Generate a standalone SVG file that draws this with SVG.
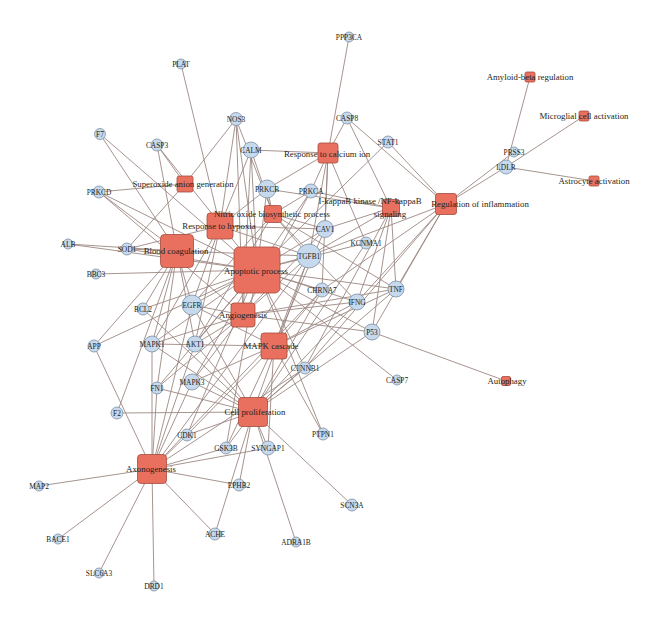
<svg xmlns="http://www.w3.org/2000/svg" width="660" height="622" viewBox="0 0 660 622">
<style>
.e line{stroke:#9c8882;stroke-width:0.9;fill:none}
.g circle{fill:#c7d9ec;stroke:#7f8fa2;stroke-width:0.8}
.t rect{fill:#e9705e;stroke:#a64b3d;stroke-width:0.8}
text{font-family:"Liberation Serif","DejaVu Serif",serif;fill:#231f20;text-anchor:middle}
.g text{font-size:7.4px}
.t text{font-size:8.8px}
</style>
<rect width="660" height="622" fill="#ffffff"/>
<g id="connectors" class="e">
<line x1="349" y1="37" x2="328" y2="153"/>
<line x1="181" y1="64" x2="220" y2="226"/>
<line x1="236" y1="119" x2="185" y2="184"/>
<line x1="236" y1="119" x2="273" y2="214"/>
<line x1="236" y1="119" x2="257" y2="270"/>
<line x1="236" y1="119" x2="220" y2="226"/>
<line x1="236" y1="119" x2="243" y2="315"/>
<line x1="347" y1="118" x2="328" y2="153"/>
<line x1="347" y1="118" x2="446" y2="204"/>
<line x1="347" y1="118" x2="391" y2="208"/>
<line x1="100" y1="134" x2="177" y2="251"/>
<line x1="100" y1="134" x2="257" y2="270"/>
<line x1="157" y1="145" x2="185" y2="184"/>
<line x1="157" y1="145" x2="257" y2="270"/>
<line x1="157" y1="145" x2="177" y2="251"/>
<line x1="251" y1="150" x2="328" y2="153"/>
<line x1="251" y1="150" x2="220" y2="226"/>
<line x1="251" y1="150" x2="273" y2="214"/>
<line x1="251" y1="150" x2="257" y2="270"/>
<line x1="251" y1="150" x2="243" y2="315"/>
<line x1="388" y1="142" x2="446" y2="204"/>
<line x1="388" y1="142" x2="257" y2="270"/>
<line x1="267" y1="189" x2="328" y2="153"/>
<line x1="267" y1="189" x2="273" y2="214"/>
<line x1="267" y1="189" x2="391" y2="208"/>
<line x1="267" y1="189" x2="257" y2="270"/>
<line x1="267" y1="189" x2="220" y2="226"/>
<line x1="311" y1="191" x2="328" y2="153"/>
<line x1="311" y1="191" x2="273" y2="214"/>
<line x1="311" y1="191" x2="257" y2="270"/>
<line x1="311" y1="191" x2="391" y2="208"/>
<line x1="311" y1="191" x2="243" y2="315"/>
<line x1="99" y1="192" x2="185" y2="184"/>
<line x1="99" y1="192" x2="257" y2="270"/>
<line x1="99" y1="192" x2="177" y2="251"/>
<line x1="99" y1="192" x2="243" y2="315"/>
<line x1="68" y1="244" x2="177" y2="251"/>
<line x1="68" y1="244" x2="257" y2="270"/>
<line x1="127" y1="249" x2="177" y2="251"/>
<line x1="127" y1="249" x2="185" y2="184"/>
<line x1="127" y1="249" x2="257" y2="270"/>
<line x1="127" y1="249" x2="220" y2="226"/>
<line x1="96" y1="274" x2="257" y2="270"/>
<line x1="325" y1="229" x2="273" y2="214"/>
<line x1="325" y1="229" x2="257" y2="270"/>
<line x1="325" y1="229" x2="220" y2="226"/>
<line x1="325" y1="229" x2="328" y2="153"/>
<line x1="325" y1="229" x2="243" y2="315"/>
<line x1="325" y1="229" x2="391" y2="208"/>
<line x1="325" y1="229" x2="274" y2="346"/>
<line x1="366" y1="243" x2="328" y2="153"/>
<line x1="366" y1="243" x2="253" y2="412"/>
<line x1="366" y1="243" x2="257" y2="270"/>
<line x1="309" y1="256" x2="257" y2="270"/>
<line x1="309" y1="256" x2="177" y2="251"/>
<line x1="309" y1="256" x2="220" y2="226"/>
<line x1="309" y1="256" x2="273" y2="214"/>
<line x1="309" y1="256" x2="243" y2="315"/>
<line x1="309" y1="256" x2="274" y2="346"/>
<line x1="309" y1="256" x2="253" y2="412"/>
<line x1="309" y1="256" x2="446" y2="204"/>
<line x1="309" y1="256" x2="391" y2="208"/>
<line x1="309" y1="256" x2="152" y2="469"/>
<line x1="309" y1="256" x2="328" y2="153"/>
<line x1="322" y1="290" x2="328" y2="153"/>
<line x1="322" y1="290" x2="257" y2="270"/>
<line x1="322" y1="290" x2="253" y2="412"/>
<line x1="322" y1="290" x2="274" y2="346"/>
<line x1="322" y1="290" x2="152" y2="469"/>
<line x1="322" y1="290" x2="446" y2="204"/>
<line x1="357" y1="302" x2="446" y2="204"/>
<line x1="357" y1="302" x2="257" y2="270"/>
<line x1="357" y1="302" x2="391" y2="208"/>
<line x1="357" y1="302" x2="243" y2="315"/>
<line x1="357" y1="302" x2="274" y2="346"/>
<line x1="357" y1="302" x2="253" y2="412"/>
<line x1="357" y1="302" x2="273" y2="214"/>
<line x1="396" y1="289" x2="446" y2="204"/>
<line x1="396" y1="289" x2="391" y2="208"/>
<line x1="396" y1="289" x2="257" y2="270"/>
<line x1="396" y1="289" x2="273" y2="214"/>
<line x1="396" y1="289" x2="274" y2="346"/>
<line x1="396" y1="289" x2="253" y2="412"/>
<line x1="396" y1="289" x2="243" y2="315"/>
<line x1="192" y1="305" x2="257" y2="270"/>
<line x1="192" y1="305" x2="243" y2="315"/>
<line x1="192" y1="305" x2="274" y2="346"/>
<line x1="192" y1="305" x2="253" y2="412"/>
<line x1="192" y1="305" x2="152" y2="469"/>
<line x1="192" y1="305" x2="177" y2="251"/>
<line x1="192" y1="305" x2="220" y2="226"/>
<line x1="192" y1="305" x2="273" y2="214"/>
<line x1="143" y1="309" x2="257" y2="270"/>
<line x1="143" y1="309" x2="177" y2="251"/>
<line x1="143" y1="309" x2="253" y2="412"/>
<line x1="372" y1="332" x2="506" y2="381"/>
<line x1="372" y1="332" x2="257" y2="270"/>
<line x1="372" y1="332" x2="253" y2="412"/>
<line x1="372" y1="332" x2="391" y2="208"/>
<line x1="372" y1="332" x2="243" y2="315"/>
<line x1="372" y1="332" x2="446" y2="204"/>
<line x1="94" y1="346" x2="152" y2="469"/>
<line x1="94" y1="346" x2="177" y2="251"/>
<line x1="94" y1="346" x2="257" y2="270"/>
<line x1="152" y1="344" x2="274" y2="346"/>
<line x1="152" y1="344" x2="257" y2="270"/>
<line x1="152" y1="344" x2="243" y2="315"/>
<line x1="152" y1="344" x2="253" y2="412"/>
<line x1="152" y1="344" x2="152" y2="469"/>
<line x1="152" y1="344" x2="177" y2="251"/>
<line x1="152" y1="344" x2="220" y2="226"/>
<line x1="195" y1="344" x2="257" y2="270"/>
<line x1="195" y1="344" x2="243" y2="315"/>
<line x1="195" y1="344" x2="253" y2="412"/>
<line x1="195" y1="344" x2="152" y2="469"/>
<line x1="195" y1="344" x2="273" y2="214"/>
<line x1="195" y1="344" x2="220" y2="226"/>
<line x1="195" y1="344" x2="177" y2="251"/>
<line x1="305" y1="368" x2="253" y2="412"/>
<line x1="305" y1="368" x2="152" y2="469"/>
<line x1="305" y1="368" x2="257" y2="270"/>
<line x1="305" y1="368" x2="391" y2="208"/>
<line x1="305" y1="368" x2="446" y2="204"/>
<line x1="397" y1="380" x2="257" y2="270"/>
<line x1="157" y1="388" x2="253" y2="412"/>
<line x1="157" y1="388" x2="152" y2="469"/>
<line x1="157" y1="388" x2="257" y2="270"/>
<line x1="157" y1="388" x2="177" y2="251"/>
<line x1="157" y1="388" x2="243" y2="315"/>
<line x1="192" y1="382" x2="274" y2="346"/>
<line x1="192" y1="382" x2="257" y2="270"/>
<line x1="192" y1="382" x2="253" y2="412"/>
<line x1="192" y1="382" x2="152" y2="469"/>
<line x1="192" y1="382" x2="243" y2="315"/>
<line x1="117" y1="413" x2="253" y2="412"/>
<line x1="117" y1="413" x2="177" y2="251"/>
<line x1="187" y1="435" x2="253" y2="412"/>
<line x1="187" y1="435" x2="152" y2="469"/>
<line x1="187" y1="435" x2="257" y2="270"/>
<line x1="187" y1="435" x2="274" y2="346"/>
<line x1="226" y1="448" x2="253" y2="412"/>
<line x1="226" y1="448" x2="152" y2="469"/>
<line x1="226" y1="448" x2="257" y2="270"/>
<line x1="226" y1="448" x2="274" y2="346"/>
<line x1="268" y1="448" x2="253" y2="412"/>
<line x1="268" y1="448" x2="152" y2="469"/>
<line x1="268" y1="448" x2="274" y2="346"/>
<line x1="323" y1="434" x2="274" y2="346"/>
<line x1="323" y1="434" x2="257" y2="270"/>
<line x1="239" y1="485" x2="253" y2="412"/>
<line x1="239" y1="485" x2="152" y2="469"/>
<line x1="39" y1="486" x2="152" y2="469"/>
<line x1="352" y1="505" x2="253" y2="412"/>
<line x1="215" y1="534" x2="152" y2="469"/>
<line x1="215" y1="534" x2="253" y2="412"/>
<line x1="296" y1="542" x2="253" y2="412"/>
<line x1="58" y1="539" x2="152" y2="469"/>
<line x1="99" y1="573" x2="152" y2="469"/>
<line x1="154" y1="586" x2="152" y2="469"/>
<line x1="514" y1="152" x2="446" y2="204"/>
<line x1="506" y1="167" x2="446" y2="204"/>
<line x1="506" y1="167" x2="530" y2="77"/>
<line x1="506" y1="167" x2="584" y2="116"/>
<line x1="506" y1="167" x2="594" y2="181"/>
</g>
<g id="t-apoptotic" class="t"><rect x="234" y="247" width="46" height="46" rx="5"/><text x="256" y="274">Apoptotic process</text></g>
<g id="t-blood" class="t"><rect x="160.5" y="234.5" width="33" height="33" rx="4"/><text x="176" y="254">Blood coagulation</text></g>
<g id="t-hypoxia" class="t"><rect x="207" y="213" width="26" height="26" rx="3"/><text x="219" y="229">Response to hypoxia</text></g>
<g id="t-nitric" class="t"><rect x="264.5" y="205.5" width="17" height="17" rx="2"/><text x="272" y="217">Nitric oxide biosynthetic process</text></g>
<g id="t-superoxide" class="t"><rect x="177" y="176" width="16" height="16" rx="2"/><text x="183" y="187">Superoxide anion generation</text></g>
<g id="t-calcium" class="t"><rect x="318" y="143" width="20" height="20" rx="2.5"/><text x="327" y="157">Response to calcium ion</text></g>
<g id="t-ikappab" class="t"><rect x="382.5" y="199.5" width="17" height="17" rx="2"/><text x="370" y="204">I-kappaB kinase /NF-kappaB</text><text x="390" y="217">signaling</text></g>
<g id="t-inflammation" class="t"><rect x="435.5" y="193.5" width="21" height="21" rx="2.5"/><text x="480" y="207">Regulation of inflammation</text></g>
<g id="t-angiogenesis" class="t"><rect x="231" y="303" width="24" height="24" rx="3"/><text x="243" y="318">Angiogenesis</text></g>
<g id="t-mapk" class="t"><rect x="261" y="333" width="26" height="26" rx="3"/><text x="271" y="349">MAPK cascade</text></g>
<g id="t-proliferation" class="t"><rect x="238.5" y="397.5" width="29" height="29" rx="3.5"/><text x="255" y="415">Cell proliferation</text></g>
<g id="t-axonogenesis" class="t"><rect x="137.5" y="454.5" width="29" height="29" rx="3.5"/><text x="151" y="472">Axonogenesis</text></g>
<g id="t-amyloid" class="t"><rect x="525" y="72" width="10" height="10" rx="1.5"/><text x="530" y="80">Amyloid-beta regulation</text></g>
<g id="t-microglial" class="t"><rect x="579" y="111" width="10" height="10" rx="1.5"/><text x="584" y="119">Microglial cell activation</text></g>
<g id="t-astrocyte" class="t"><rect x="589" y="176" width="10" height="10" rx="1.5"/><text x="594" y="184">Astrocyte activation</text></g>
<g id="t-autophagy" class="t"><rect x="501.5" y="376.5" width="9" height="9" rx="1.5"/><text x="507" y="384">Autophagy</text></g>
<g id="n-PPP3CA" class="g"><circle cx="349" cy="37" r="5"/><text x="349" y="39.5">PPP3CA</text></g>
<g id="n-PLAT" class="g"><circle cx="181" cy="64" r="5"/><text x="181" y="66.5">PLAT</text></g>
<g id="n-NOS3" class="g"><circle cx="236" cy="119" r="6.5"/><text x="236" y="121.5">NOS3</text></g>
<g id="n-CASP8" class="g"><circle cx="347" cy="118" r="6"/><text x="347" y="120.5">CASP8</text></g>
<g id="n-F7" class="g"><circle cx="100" cy="134" r="5.5"/><text x="100" y="136.5">F7</text></g>
<g id="n-CASP3" class="g"><circle cx="157" cy="145" r="6"/><text x="157" y="147.5">CASP3</text></g>
<g id="n-CALM" class="g"><circle cx="251" cy="150" r="8"/><text x="251" y="152.5">CALM</text></g>
<g id="n-STAT1" class="g"><circle cx="388" cy="142" r="6"/><text x="388" y="144.5">STAT1</text></g>
<g id="n-PRKCB" class="g"><circle cx="267" cy="189" r="9"/><text x="267" y="191.5">PRKCB</text></g>
<g id="n-PRKCA" class="g"><circle cx="311" cy="191" r="7"/><text x="311" y="193.5">PRKCA</text></g>
<g id="n-PRKCD" class="g"><circle cx="99" cy="192" r="6"/><text x="99" y="194.5">PRKCD</text></g>
<g id="n-ALB" class="g"><circle cx="68" cy="244" r="5"/><text x="68" y="246.5">ALB</text></g>
<g id="n-SOD1" class="g"><circle cx="127" cy="249" r="6"/><text x="127" y="251.5">SOD1</text></g>
<g id="n-BBC3" class="g"><circle cx="96" cy="274" r="5"/><text x="96" y="276.5">BBC3</text></g>
<g id="n-CAV1" class="g"><circle cx="325" cy="229" r="8.5"/><text x="325" y="231.5">CAV1</text></g>
<g id="n-KCNMA1" class="g"><circle cx="366" cy="243" r="6"/><text x="366" y="245.5">KCNMA1</text></g>
<g id="n-TGFB1" class="g"><circle cx="309" cy="256" r="12"/><text x="309" y="258.5">TGFB1</text></g>
<g id="n-CHRNA7" class="g"><circle cx="322" cy="290" r="7"/><text x="322" y="292.5">CHRNA7</text></g>
<g id="n-IFNG" class="g"><circle cx="357" cy="302" r="8"/><text x="357" y="304.5">IFNG</text></g>
<g id="n-TNF" class="g"><circle cx="396" cy="289" r="8"/><text x="396" y="291.5">TNF</text></g>
<g id="n-EGFR" class="g"><circle cx="192" cy="305" r="10"/><text x="192" y="307.5">EGFR</text></g>
<g id="n-BCL2" class="g"><circle cx="143" cy="309" r="6"/><text x="143" y="311.5">BCL2</text></g>
<g id="n-P53" class="g"><circle cx="372" cy="332" r="8"/><text x="372" y="334.5">P53</text></g>
<g id="n-APP" class="g"><circle cx="94" cy="346" r="6"/><text x="94" y="348.5">APP</text></g>
<g id="n-MAPK1" class="g"><circle cx="152" cy="344" r="8"/><text x="152" y="346.5">MAPK1</text></g>
<g id="n-AKT1" class="g"><circle cx="195" cy="344" r="8"/><text x="195" y="346.5">AKT1</text></g>
<g id="n-CTNNB1" class="g"><circle cx="305" cy="368" r="6"/><text x="305" y="370.5">CTNNB1</text></g>
<g id="n-CASP7" class="g"><circle cx="397" cy="380" r="5"/><text x="397" y="382.5">CASP7</text></g>
<g id="n-FN1" class="g"><circle cx="157" cy="388" r="6"/><text x="157" y="390.5">FN1</text></g>
<g id="n-MAPK3" class="g"><circle cx="192" cy="382" r="8"/><text x="192" y="384.5">MAPK3</text></g>
<g id="n-F2" class="g"><circle cx="117" cy="413" r="6"/><text x="117" y="415.5">F2</text></g>
<g id="n-CDK1" class="g"><circle cx="187" cy="435" r="6"/><text x="187" y="437.5">CDK1</text></g>
<g id="n-GSK3B" class="g"><circle cx="226" cy="448" r="6"/><text x="226" y="450.5">GSK3B</text></g>
<g id="n-SYNGAP1" class="g"><circle cx="268" cy="448" r="7"/><text x="268" y="450.5">SYNGAP1</text></g>
<g id="n-PTPN1" class="g"><circle cx="323" cy="434" r="6"/><text x="323" y="436.5">PTPN1</text></g>
<g id="n-EPHB2" class="g"><circle cx="239" cy="485" r="6"/><text x="239" y="487.5">EPHB2</text></g>
<g id="n-MAP2" class="g"><circle cx="39" cy="486" r="5"/><text x="39" y="488.5">MAP2</text></g>
<g id="n-SCN3A" class="g"><circle cx="352" cy="505" r="6"/><text x="352" y="507.5">SCN3A</text></g>
<g id="n-ACHE" class="g"><circle cx="215" cy="534" r="6"/><text x="215" y="536.5">ACHE</text></g>
<g id="n-ADRA1B" class="g"><circle cx="296" cy="542" r="5"/><text x="296" y="544.5">ADRA1B</text></g>
<g id="n-BACE1" class="g"><circle cx="58" cy="539" r="5"/><text x="58" y="541.5">BACE1</text></g>
<g id="n-SLC6A3" class="g"><circle cx="99" cy="573" r="5"/><text x="99" y="575.5">SLC6A3</text></g>
<g id="n-DRD1" class="g"><circle cx="154" cy="586" r="5"/><text x="154" y="588.5">DRD1</text></g>
<g id="n-PRSS3" class="g"><circle cx="514" cy="152" r="5"/><text x="514" y="154.5">PRSS3</text></g>
<g id="n-LDLR" class="g"><circle cx="506" cy="167" r="7"/><text x="506" y="169.5">LDLR</text></g>
</svg>
